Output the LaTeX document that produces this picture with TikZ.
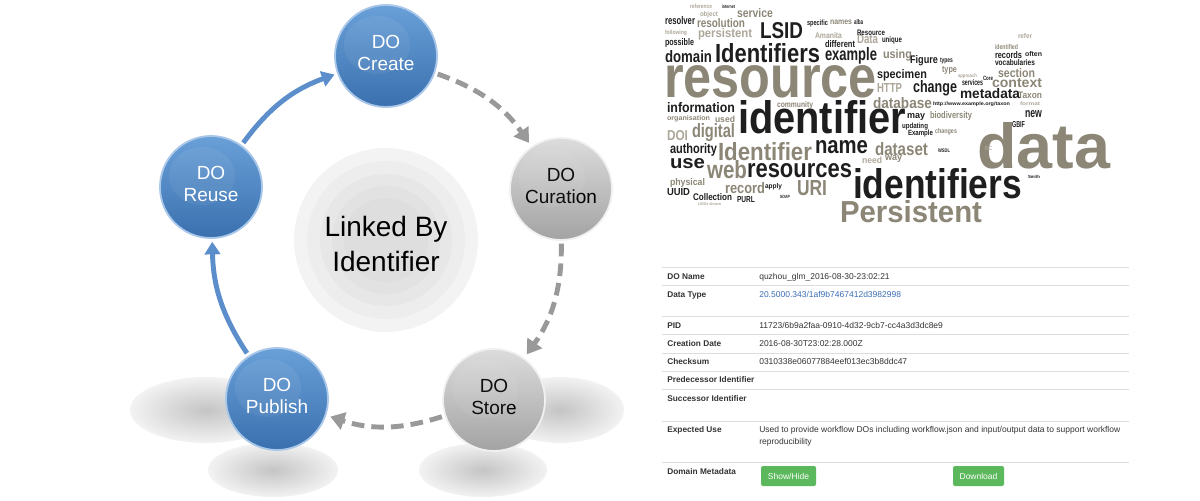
\documentclass[tikz,border=0pt]{standalone}
\usepackage{fontspec}
\setmainfont{Liberation Sans}
\usepackage{graphicx}
\usetikzlibrary{arrows.meta}

\newdimen\px \px=0.025cm

\definecolor{doBlueTop}{HTML}{6AA0D8}
\definecolor{doBlueBot}{HTML}{3A70AE}
\definecolor{doBlueRim}{HTML}{A9C7E9}
\definecolor{doGreyTop}{HTML}{DCDCDC}
\definecolor{doGreyBot}{HTML}{A3A3A3}
\definecolor{doGreyRim}{HTML}{F0F0F0}
\definecolor{flowBlue}{HTML}{5B8ECB}
\definecolor{flowGrey}{HTML}{999999}
\definecolor{cloudDark}{HTML}{1E1E1E}
\definecolor{cloudTaupe}{HTML}{8C8677}
\definecolor{cloudLight}{HTML}{ADA799}
\definecolor{rowLine}{HTML}{DDDDDD}
\definecolor{cellText}{HTML}{333333}
\definecolor{linkBlue}{HTML}{3A6DB5}
\definecolor{btnGreen}{HTML}{5CB85C}

\tikzset{
  sphere/.style={circle, minimum size=2.55cm, inner sep=0pt, line width=1.3pt,
    align=center, text depth=4pt, font=\fontsize{19\px}{22\px}\selectfont},
  bluesphere/.style={sphere, top color=doBlueTop, bottom color=doBlueBot, draw=doBlueRim, text=white},
  greysphere/.style={sphere, top color=doGreyTop, bottom color=doGreyBot, draw=doGreyRim, text=black},
  flowsolid/.style={draw=flowBlue, line width=3.5pt, shorten <=2pt, shorten >=2pt,
    -{Triangle[length=9pt,width=11pt]}},
  flowdash/.style={draw=flowGrey, line width=3.5pt, dash pattern=on 9pt off 5pt,
    shorten <=2pt, shorten >=3pt, -{Triangle[length=10pt,width=12.5pt]}},
  floorshadow/.style={inner color=black!23, outer color=black!5},
  cloudword/.style={anchor=base west, inner sep=0pt, outer sep=0pt},
  cell/.style={anchor=base west, inner sep=0pt, text=cellText, font=\fontsize{8.5\px}{10\px}\selectfont},
  celllabel/.style={cell, font=\fontsize{8.3\px}{10\px}\selectfont\bfseries},
  rowline/.style={draw=rowLine, line width=0.6pt},
  btn/.style={fill=btnGreen, text=white, rounded corners=1.5pt, minimum height=0.5cm,
    inner sep=0pt, font=\fontsize{8.5\px}{10\px}\selectfont}
}

\begin{document}
\begin{tikzpicture}[x=0.025cm, y=-0.025cm]
\useasboundingbox (0,0) rectangle (1200,500);

% soft floor shadows under the lower spheres
\shade[floorshadow] (206,410) ellipse [x radius=76, y radius=33];
\shade[floorshadow] (273,470) ellipse [x radius=65, y radius=27];
\shade[floorshadow] (560,410) ellipse [x radius=64, y radius=33];
\shade[floorshadow] (483,470) ellipse [x radius=64, y radius=27];

% hub
\coordinate (hubc) at (386,240);
\foreach \r/\g in {92/4.7, 79/7, 66/9.4, 54/11.4, 42/13}
  \fill[black!\g] (hubc) circle [radius=\r];
\node[font=\fontsize{28\px}{35\px}\selectfont, align=center] (hub) at (386,244) {Linked By\\Identifier};

% life cycle
\node[bluesphere] (create)   at (386,56)  {DO\\Create};
\node[greysphere] (curation) at (561,189) {DO\\Curation};
\node[greysphere] (store)    at (494,400) {DO\\Store};
\node[bluesphere] (publish)  at (277,399) {DO\\Publish};
\node[bluesphere] (reuse)    at (211,187) {DO\\Reuse};

\foreach \n in {create,curation,store,publish,reuse}
  \fill[white, opacity=.06] ([shift={(-9,-11)}]\n.center) ellipse [x radius=33, y radius=29];

\draw[flowdash]  (create)   to[bend left=18] (curation);
\draw[flowdash]  (curation) to[bend left=18] (store);
\draw[flowdash]  (store)    to[bend left=18] (publish);
\draw[flowsolid] (publish)  to[bend left=16] (reuse);
\draw[flowsolid] (reuse)    to[bend left=17] (create);

% word cloud: left, baseline, size, width, glyph height, colour, word
\foreach \x/\y/\s/\w/\h/\c/\t [count=\k] in {
  664/97/62/213/32/cloudTaupe/resource,
  738/133/45/168/33/cloudDark/identifier,
  853/198/41/169/30/cloudDark/identifiers,
  977/168/63/133/46/cloudTaupe/data,
  840/222/30/142/22/cloudTaupe/Persistent,
  715/62/26/105/19/cloudDark/Identifiers,
  718/160/25/94/18/cloudTaupe/Identifier,
  747/177/27/105/14/cloudDark/resources,
  760/38/22/43/16/cloudDark/LSID,
  815/153/25/53/13/cloudDark/name,
  707/178/25/40/18/cloudTaupe/web,
  797/195/21/30/15/cloudTaupe/URI,
  670/168/19/35/10/cloudDark/use,
  665/62/16.5/47/12/cloudDark/domain,
  825/60/18/52/13/cloudDark/example,
  667/112/14/68/10/cloudDark/information,
  692/137/19/43/14/cloudTaupe/digital,
  667/140/14/21/10/cloudLight/DOI,
  670/153/14/47/10/cloudDark/authority,
  913/92/16.5/44/12/cloudDark/change,
  873/108/15.5/59/11/cloudTaupe/database,
  875/155/17/53/13/cloudTaupe/dataset,
  960/98/14/60/10/cloudDark/metadata,
  992/87/13/50/9/cloudTaupe/context,
  998/77/12/37/9/cloudTaupe/section,
  877/78/12/50/9/cloudDark/specimen,
  883/58/13/29/9/cloudTaupe/using,
  877/92/12.5/25/9/cloudLight/HTTP,
  910/63/10.5/28/8/cloudDark/Figure,
  995/58/10/27/7/cloudDark/records,
  995/65/8/40/6/cloudDark/vocabularies,
  962/85/8.5/21/6/cloudDark/services,
  725/193/15/40/11/cloudTaupe/record,
  697/27/12/48/9/cloudTaupe/resolution,
  665/25/10/30/8/cloudDark/resolver,
  698/37/12/54/9/cloudLight/persistent,
  665/45/9.5/29/7/cloudDark/possible,
  737/17/12/36/9/cloudTaupe/service,
  670/185/10/35/7/cloudTaupe/physical,
  667/195/9/23/7/cloudDark/UUID,
  693/200/9/39/7/cloudDark/Collection,
  737/202/8.5/18/6/cloudDark/PURL,
  1025/117/14/17/7/cloudDark/new,
  1012/127/8/13/6/cloudDark/GBIF,
  907/118/10/18/5/cloudDark/may,
  930/118/9.5/42/7/cloudTaupe/biodiversity,
  902/128/7.5/26/5.5/cloudDark/updating,
  908/135/7.5/25/5.5/cloudDark/Example,
  935/133/6.5/22/5/cloudTaupe/changes,
  885/160/10/17/5/cloudTaupe/way,
  1018/98/9/24/6.5/cloudTaupe/Taxon,
  825/47/10/30/7/cloudDark/different,
  857/44/12/21/9/cloudLight/Data,
  815/38/8/27/6/cloudLight/Amanita,
  857/35/7.5/28/5.5/cloudDark/Resource,
  807/25/7.5/21/5.5/cloudDark/specific,
  830/25/8.5/22/4.5/cloudTaupe/names,
  854/25/7/9/5/cloudDark/alba,
  882/42/8/20/6/cloudDark/unique,
  942/72/9/15/6/cloudTaupe/type,
  940/62/6/13/4.5/cloudDark/types,
  995/49/7/23/5/cloudTaupe/identified,
  1025/56/7/17/5/cloudDark/often,
  1018/38/7/14/5/cloudLight/refer,
  777/107/8/36/6/cloudTaupe/community,
  667/120/7/43/5/cloudTaupe/organisation,
  715/122/9/20/6.5/cloudTaupe/used,
  862/163/9/20/6.5/cloudLight/need,
  765/188/7/17/5/cloudDark/apply,
  1020/105/5/20/3.6/cloudLight/format,
  958/77/5/19/3.6/cloudLight/approach,
  983/80/6/10/4.3/cloudDark/Core,
  780/198/4.5/10/3.2/cloudDark/SOAP,
  1028/178/4.5/12/3.2/cloudDark/Smith,
  985/150/6/7/4.3/cloudLight/EC,
  938/152/5/12/3.6/cloudDark/WSDL,
  665/34/6/22/4.3/cloudLight/following,
  700/16/7/18/5/cloudLight/object,
  690/8/6/22/4.3/cloudLight/reference,
  722/8/5/13/3.6/cloudDark/internet,
  698/205/4/24/2.9/cloudLight/LSIDs shown
}
  \node[cloudword, text=\c, font=\fontsize{\s\px}{\s\px}\selectfont\bfseries] (w\k) at (\x,\y)
    {\resizebox{\w\px}{\h\px}{\t}};
\node[cloudword, text=cloudDark, font=\fontsize{5\px}{5\px}\selectfont\bfseries] (wurl) at (933,105)
  {\resizebox{77\px}{3.6\px}{http://www.example.org/taxon}};

% metadata table
\foreach \y in {267,285,316,334,353,371,389,421,462}
  \draw[rowline] (662,\y) -- (1129,\y);

\node[celllabel] (lblName)    at (667,279) {DO Name};
\node[cell]      (valName)    at (759,279) {quzhou\_glm\_2016-08-30-23:02:21};
\node[celllabel] (lblType)    at (667,297) {Data Type};
\node[cell, text=linkBlue] (valType) at (759,297) {20.5000.343/1af9b7467412d3982998};
\node[celllabel] (lblPid)     at (667,328) {PID};
\node[cell]      (valPid)     at (759,328) {11723/6b9a2faa-0910-4d32-9cb7-cc4a3d3dc8e9};
\node[celllabel] (lblDate)    at (667,346) {Creation Date};
\node[cell]      (valDate)    at (759,346) {2016-08-30T23:02:28.000Z};
\node[celllabel] (lblSum)     at (667,364) {Checksum};
\node[cell]      (valSum)     at (759,364) {0310338e06077884eef013ec3b8ddc47};
\node[celllabel] (lblPred)    at (667,382) {Predecessor Identifier};
\node[celllabel] (lblSucc)    at (667,401) {Successor Identifier};
\node[celllabel] (lblUse)     at (667,432) {Expected Use};
\node[cell]      (valUse)     at (759,432) {Used to provide workflow DOs including workflow.json and input/output data to support workflow};
\node[cell]      (valUseb)    at (759,444) {reproducibility};
\node[celllabel] (lblDomain)  at (667,474) {Domain Metadata};
\node[btn, minimum width=1.375cm] (btnShow)     at (788.5,476) {Show/Hide};
\node[btn, minimum width=1.275cm] (btnDownload) at (978.5,476) {Download};
\end{tikzpicture}
\end{document}
